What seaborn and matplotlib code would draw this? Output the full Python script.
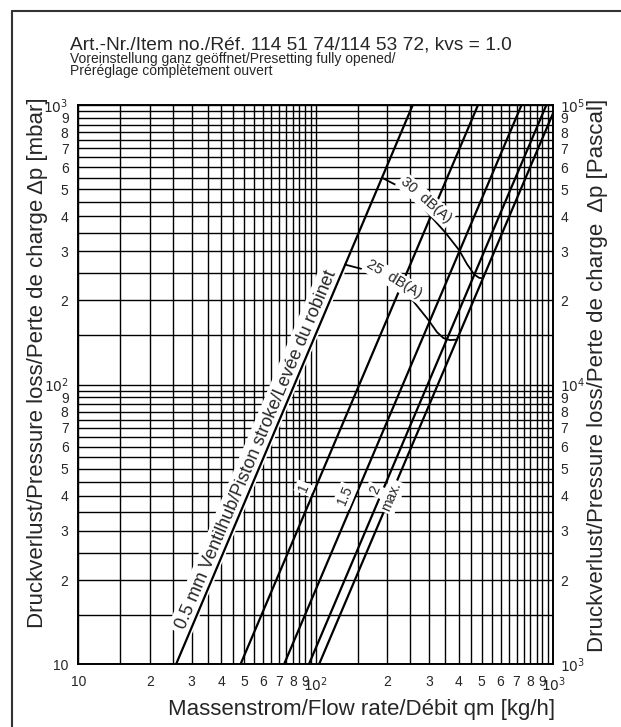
import numpy as np
import pandas as pd
import matplotlib
matplotlib.use("Agg")
import matplotlib.pyplot as plt
import seaborn as sns
from matplotlib.ticker import FixedLocator, FixedFormatter, NullFormatter
from matplotlib.lines import Line2D

sns.set_theme(style="white")
plt.rcParams['font.family'] = ['Liberation Sans', 'DejaVu Sans']
plt.rcParams['mathtext.fontset'] = 'custom'
plt.rcParams['mathtext.rm'] = 'Liberation Sans Narrow'
plt.rcParams['mathtext.it'] = 'Liberation Sans Narrow'

# ---- data -------------------------------------------------------------
# valve stroke characteristics: flow [kg/h] vs pressure loss [mbar]
stroke_names = ["0.5", "1", "1.5", "2", "max."]
stroke_flow = [[25.8, 256.0], [48.2, 482.0], [73.5, 735.0], [93.5, 935.0], [103.2, 1000.0]]
stroke_dp = [[10.0, 1000.0], [10.0, 1000.0], [10.0, 1000.0], [10.0, 1000.0], [10.0, 939.0]]

# sound level limit curves
noise30_flow = [191.0, 226.0, 262.0, 304.0, 350.0, 401.0, 433.0, 464.0, 487.0, 506.0]
noise30_dp = [548.0, 509.0, 461.0, 401.0, 351.0, 303.0, 270.0, 248.0, 241.0, 240.0]
noise25_flow = [132.7, 162.7, 201.4, 249.3, 298.2, 323.8, 344.9, 367.4, 393.1]
noise25_dp = [268.8, 256.9, 236.5, 205.6, 170.1, 154.1, 146.7, 144.3, 144.9]

# axis ticks
x_ticks = [10, 20, 30, 40, 50, 60, 70, 80, 90, 100, 200, 300, 400, 500, 600, 700, 800, 900, 1000]
x_ticklabels = ["10", "2", "3", "4", "5", "6", "7", "8", "9", r"$10^2$",
                "2", "3", "4", "5", "6", "7", "8", "9", r"$10^3$"]
y_ticks = x_ticks
y_ticklabels = ["10", "2", "3", "4", "5", "6", "7", "8", "9", r"$10^2$",
                "2", "3", "4", "5", "6", "7", "8", "9", r"$10^3$"]
pa_ticks = [t * 100 for t in y_ticks]
pa_ticklabels = [r"$10^3$", "2", "3", "4", "5", "6", "7", "8", "9", r"$10^4$",
                 "2", "3", "4", "5", "6", "7", "8", "9", r"$10^5$"]
half_steps = [15, 25, 35, 45, 55, 65, 75, 85, 95, 150, 250, 350, 450, 550, 650, 750, 850, 950]

title = "Art.-Nr./Item no./Réf. 114 51 74/114 53 72, kvs = 1.0"
subtitle1 = "Voreinstellung ganz geöffnet/Presetting fully opened/"
subtitle2 = "Préréglage complètement ouvert"
xlabel = "Massenstrom/Flow rate/Débit qm [kg/h]"
ylabel_left = "Druckverlust/Pressure loss/Perte de charge Δp [mbar]"
ylabel_right = "Druckverlust/Pressure loss/Perte de charge  Δp [Pascal]"
stroke_caption = "0.5 mm Ventilhub/Piston stroke/Levée du robinet"

# ---- figure -----------------------------------------------------------
W, H = 621, 727
fig = plt.figure(figsize=(W / 100, H / 100), dpi=100)
fig.patch.set_facecolor("white")
ax_l, ax_r, ax_t, ax_b = 78.3, 553.3, 105.0, 664.3
ax = fig.add_axes([ax_l / W, 1 - ax_b / H, (ax_r - ax_l) / W, (ax_b - ax_t) / H])
ax.set_xscale("log")
ax.set_yscale("log")
ax.set_xlim(10, 1000)
ax.set_ylim(10, 1000)

strokes = pd.DataFrame({
    "stroke": np.repeat(stroke_names, 2),
    "flow": np.concatenate(stroke_flow),
    "dp": np.concatenate(stroke_dp),
})
sns.lineplot(data=strokes, x="flow", y="dp", units="stroke", estimator=None,
             color="black", lw=1.6, ax=ax, zorder=2.5)

noise = pd.DataFrame({
    "level": ["30"] * len(noise30_flow) + ["25"] * len(noise25_flow),
    "flow": noise30_flow + noise25_flow,
    "dp": noise30_dp + noise25_dp,
})
sns.lineplot(data=noise, x="flow", y="dp", units="level", estimator=None, sort=False,
             color="black", lw=1.3, ax=ax, zorder=2.5)

ax.set_xlabel("")
ax.set_ylabel("")

# grid every half step
ax.xaxis.set_major_locator(FixedLocator(x_ticks))
ax.xaxis.set_major_formatter(FixedFormatter(x_ticklabels))
ax.xaxis.set_minor_locator(FixedLocator(half_steps))
ax.xaxis.set_minor_formatter(NullFormatter())
ax.yaxis.set_major_locator(FixedLocator(y_ticks))
ax.yaxis.set_major_formatter(FixedFormatter(y_ticklabels))
ax.yaxis.set_minor_locator(FixedLocator(half_steps))
ax.yaxis.set_minor_formatter(NullFormatter())
ax.set_axisbelow(True)
ax.grid(which="both", color="black", lw=1.0)
tick_font = ["Liberation Sans Narrow", "Liberation Sans"]
ax.tick_params(which="both", length=0)
ax.tick_params(axis="x", pad=8, labelsize=10)
ax.tick_params(axis="y", pad=7, labelsize=10)
for lab in ax.get_xticklabels() + ax.get_yticklabels():
    lab.set_family(tick_font)
for sp in ax.spines.values():
    sp.set_color("black")
    sp.set_linewidth(1.2)

ax2 = ax.twinx()
ax2.set_yscale("log")
ax2.set_ylim(1e3, 1e5)
ax2.yaxis.set_major_locator(FixedLocator(pa_ticks))
ax2.yaxis.set_major_formatter(FixedFormatter(pa_ticklabels))
ax2.yaxis.set_minor_locator(FixedLocator([]))
ax2.grid(False)
ax2.tick_params(which="both", length=0, pad=5, labelsize=10)
for lab in ax2.get_yticklabels():
    lab.set_family(tick_font)
for sp in ax2.spines.values():
    sp.set_color("black")
    sp.set_linewidth(1.2)


def screen_angle(xs, ys):
    p = ax.transData.transform(np.column_stack([xs, ys]))
    return np.degrees(np.arctan2(p[1, 1] - p[0, 1], p[1, 0] - p[0, 0]))


white_box = dict(facecolor="white", edgecolor="none", pad=1.5)

# caption along the 0.5 mm line
ang = screen_angle(stroke_flow[0], stroke_dp[0])
ax.text(56.0, 58.3, stroke_caption, rotation=ang, rotation_mode="anchor",
        ha="center", va="center", fontsize=13, zorder=2.2,
        bbox=dict(facecolor="white", edgecolor="none", pad=3))

# stroke labels
stroke_label_pos = {"1": (89.2, 42.6), "1.5": (132.7, 40.1), "2": (177.6, 41.9), "max.": (208.7, 39.7)}
for name, (lx, ly) in stroke_label_pos.items():
    i = stroke_names.index(name)
    a = screen_angle(stroke_flow[i], stroke_dp[i])
    ax.text(lx, ly, name, rotation=a, rotation_mode="anchor", ha="center", va="center",
            fontsize=10, family=tick_font, zorder=3, bbox=white_box)

# sound level labels
ax.text(290.1, 457.0, "30  dB(A)", rotation=-41, rotation_mode="anchor", ha="center",
        va="center", fontsize=10.5, family=tick_font, zorder=3, bbox=white_box)
ax.text(213.5, 237.9, "25  dB(A)", rotation=-31, rotation_mode="anchor", ha="center",
        va="center", fontsize=10.5, family=tick_font, zorder=3, bbox=white_box)

# headings and axis titles
fig.text(70 / W, 1 - 49.3 / H, title, fontsize=13.8, va="baseline", ha="left")
fig.text(70 / W, 1 - 62.5 / H, subtitle1, fontsize=10, va="baseline", ha="left")
fig.text(70 / W, 1 - 75.0 / H, subtitle2, fontsize=10, va="baseline", ha="left")
fig.text(361.5 / W, 1 - 715 / H, xlabel, fontsize=16, va="baseline", ha="center")
fig.text(38 / W, 1 - 362.5 / H, ylabel_left, fontsize=16, rotation=90, va="center", ha="center")
fig.text(598 / W, 1 - 375 / H, ylabel_right, fontsize=16, rotation=90, va="center", ha="center")

# outer frame (top and left edge)
fig.add_artist(Line2D([11.5 / W, 11.5 / W], [0, 1 - 10.5 / H], transform=fig.transFigure,
                      color="#333333", lw=1.5))
fig.add_artist(Line2D([11.5 / W, 1], [1 - 10.5 / H, 1 - 10.5 / H], transform=fig.transFigure,
                      color="#333333", lw=1.5))

fig.savefig("out.png", dpi=100, facecolor="white")
